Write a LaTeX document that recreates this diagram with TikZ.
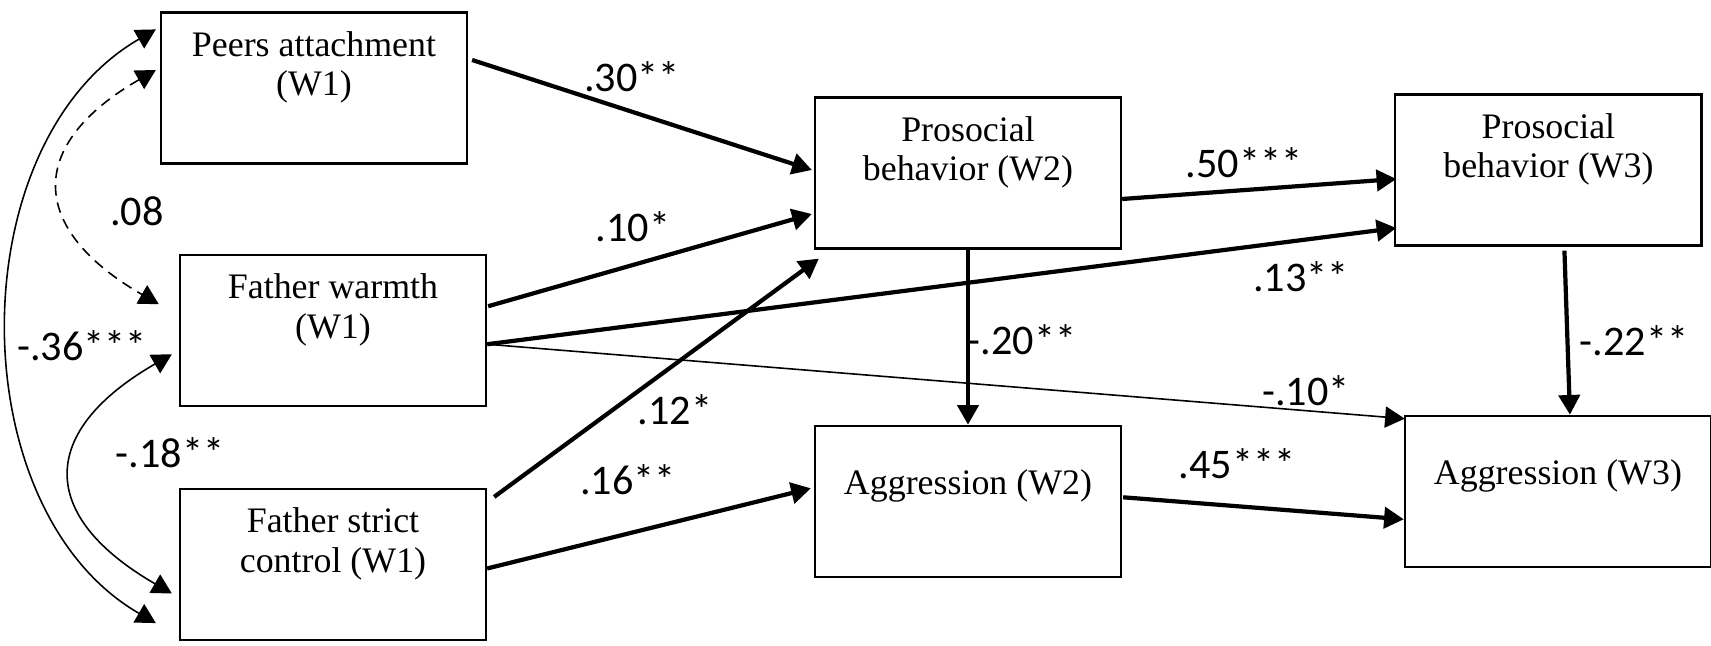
\documentclass[tikz,border=0pt]{standalone}
\usepackage{fontspec}
\setmainfont{Liberation Serif}
\newfontfamily\coeffont{Carlito}
\usetikzlibrary{positioning, calc, arrows.meta}

\newcommand{\twolines}[2]{\begin{tabular}[t]{@{}c@{}}#1\\#2\end{tabular}}

\tikzset{
  var/.style={draw, line width=0.6pt, rectangle, minimum width=3.06cm, minimum height=1.51cm,
    inner sep=0pt, text height=0.44cm, text depth=1.07cm, font=\fontsize{10.2}{11.2}\selectfont},
  varone/.style={var, text height=0.69cm, text depth=0.82cm},
  coef/.style={font=\coeffont\fontsize{12}{14}\selectfont, inner sep=1pt},
  effect/.style={line width=1.2pt, -{Triangle[length=5.6pt,width=6pt]}},
  weakeffect/.style={line width=0.45pt, -{Triangle[length=5.6pt,width=6pt]}},
  cov/.style={line width=0.45pt, {Triangle[length=5.6pt,width=6pt]}-{Triangle[length=5.6pt,width=6pt]}},
}

\begin{document}
\begin{tikzpicture}[x=0.01cm, y=-0.01cm]
            \useasboundingbox (0,0) rectangle (1711,646);
            % W1 predictors
            \node[var] (peers) at (314,88) {\twolines{Peers attachment}{(W1)}};
            \node[var, below=0.89cm of peers, xshift=0.19cm] (warmth) {\twolines{Father warmth}{(W1)}};
            \node[var, below=0.81cm of warmth] (strict) {\twolines{Father strict}{control (W1)}};
            % W2 and W3 outcomes
            \node[var] (proW2) at (968,173) {\twolines{Prosocial}{behavior (W2)}};
            \node[varone, below=1.75cm of proW2] (aggW2) {Aggression (W2)};
            \node[var, right=2.72cm of proW2, yshift=0.03cm] (proW3) {\twolines{Prosocial}{behavior (W3)}};
            \node[varone, below=1.68cm of proW3, xshift=0.095cm] (aggW3) {Aggression (W3)};
            % covariances
            \draw[cov] ($(peers.north west)+(-4,18)$) to[out=210,in=150,looseness=0.98] ($(strict.south west)+(-23,-18)$);
            \draw[cov, dash pattern=on 3pt off 2pt] ($(peers.west)+(-4,-18)$) to[out=210,in=150,looseness=1.64] ($(warmth.west)+(-20,-26)$);
            \draw[cov] ($(warmth.west)+(-7,24)$) to[out=210,in=150,looseness=1.66] ($(strict.west)+(-7,29)$);
            % paths
            \draw[effect] ($(peers.east)+(4,-28)$) -- ($(proW2.west)+(-2,-3)$);
            \draw[effect] ($(warmth.east)+(1,-24)$) -- ($(proW2.west)+(-2,41)$);
            \draw[effect] ($(strict.north east)+(7,9)$) -- ($(proW2.south west)+(5,9)$);
            \draw[effect] ($(warmth.east)+(0,14)$) -- ($(proW3.west)+(2,58)$);
            \draw[weakeffect] ($(warmth.east)+(0,14)$) -- ($(aggW3.north west)+(1,4)$);
            \draw[effect] ($(strict.east)+(0,4)$) -- ($(aggW2.west)+(-3,-13)$);
            \draw[effect] (proW2.south) -- (aggW2.north);
            \draw[effect] ($(proW2.east)+(0,26)$) -- ($(proW3.west)+(2,9)$);
            \draw[effect] ($(proW3.south)+(16,4)$) -- ($(aggW3.north)+(12,0)$);
            \draw[effect] ($(aggW2.east)+(1,-4)$) -- ($(aggW3.west)+(0,28)$);
            % coefficients
            \node[coef] (c30) at (632,77) {.30**};
            \node[coef] (c10) at (633,227) {.10*};
            \node[coef] (c12) at (675,410) {.12*};
            \node[coef] (c16) at (628,480) {.16**};
            \node[coef] (c13) at (1301,277) {.13**};
            \node[coef] (cm10) at (1306,391) {-.10*};
            \node[coef] (cm20) at (1022,340) {-.20**};
            \node[coef] (c50) at (1244,163) {.50***};
            \node[coef] (cm22) at (1634,341) {-.22**};
            \node[coef] (c45) at (1237,464) {.45***};
            \node[coef] (c08) at (137,211) {.08};
            \node[coef] (cm36) at (82,346) {-.36***};
            \node[coef] (cm18) at (170,453) {-.18**};
\end{tikzpicture}
\end{document}
